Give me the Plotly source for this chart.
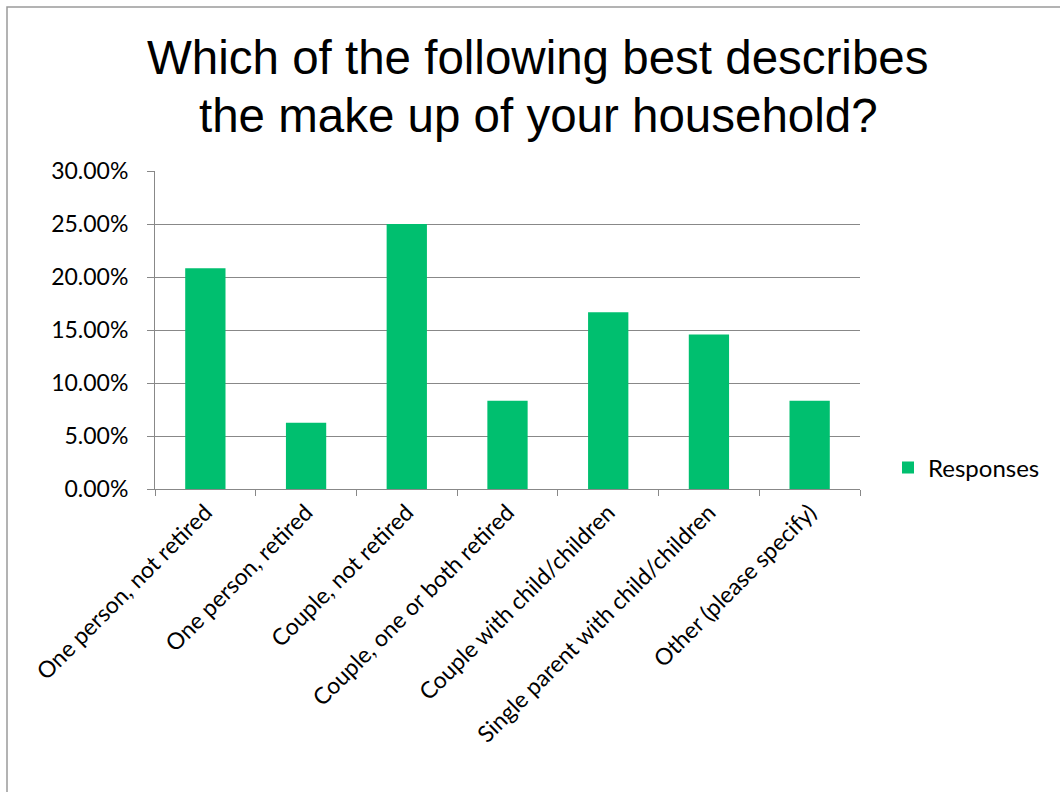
import plotly.graph_objects as go

categories = [
    "One person, not retired",
    "One person, retired",
    "Couple, not retired",
    "Couple, one or both retired",
    "Couple with child/children",
    "Single parent with child/children",
    "Other (please specify)",
]
responses = [0.2083, 0.0625, 0.2500, 0.0833, 0.1667, 0.1458, 0.0833]
y_ticks = [0, 0.05, 0.10, 0.15, 0.20, 0.25, 0.30]
title_lines = ["Which of the following best describes", "the make up of your household?"]

W, H = 1060, 792
L, R, T, B = 155, 860, 171, 489  # plot area in pixels

fig = go.Figure()
fig.add_trace(go.Bar(
    x=categories,
    y=responses,
    name="Responses",
    marker=dict(color="#00BF6F", line=dict(width=0)),
    width=0.4,
    showlegend=True,
))

def px_x(p):
    return (p - L) / (R - L)

def px_y(p):
    return (B - p) / (B - T)

title_font = dict(family="Liberation Sans, Arial, sans-serif", size=47.5, color="#000000")
annotations = [
    dict(text=line, xref="paper", yref="paper", x=px_x(538), y=px_y(cy),
         xanchor="center", yanchor="middle", showarrow=False, font=title_font)
    for line, cy in zip(title_lines, [58, 115])
]

fig.update_layout(
    width=W, height=H, autosize=False,
    margin=dict(l=L, r=W - R, t=T, b=H - B, pad=0),
    paper_bgcolor="white", plot_bgcolor="white",
    font=dict(family="Lato, Carlito, sans-serif", size=23, color="#000000"),
    annotations=annotations,
    xaxis=dict(
        type="category",
        tickangle=-45,
        ticks="outside", ticklen=6, tickcolor="#888888", tickwidth=1,
        tickson="boundaries",
        showline=True, linecolor="#888888", linewidth=1,
        showgrid=False,
        tickfont=dict(size=23),
    ),
    yaxis=dict(
        range=[0, 0.30],
        tickvals=y_ticks,
        tickformat=".2%",
        ticks="outside", ticklen=7, tickcolor="#888888", tickwidth=1,
        showline=True, linecolor="#888888", linewidth=1,
        showgrid=True, gridcolor="#888888", gridwidth=1,
        zeroline=False,
        tickfont=dict(size=23),
        ticklabelstandoff=14,
    ),
    legend=dict(
        x=888 / W, xref="container", xanchor="left",
        y=1 - 468 / H, yref="container", yanchor="middle",
        font=dict(size=24),
        itemwidth=30,
        bgcolor="rgba(0,0,0,0)",
    ),
    shapes=[dict(
        type="rect", xref="paper", yref="paper",
        x0=px_x(7), x1=px_x(1075), y0=px_y(800), y1=px_y(7),
        line=dict(color="#9a9a9a", width=1.5), fillcolor="rgba(0,0,0,0)",
        layer="below",
    )],
    bargap=0.6,
)

fig.write_html("out.html")
